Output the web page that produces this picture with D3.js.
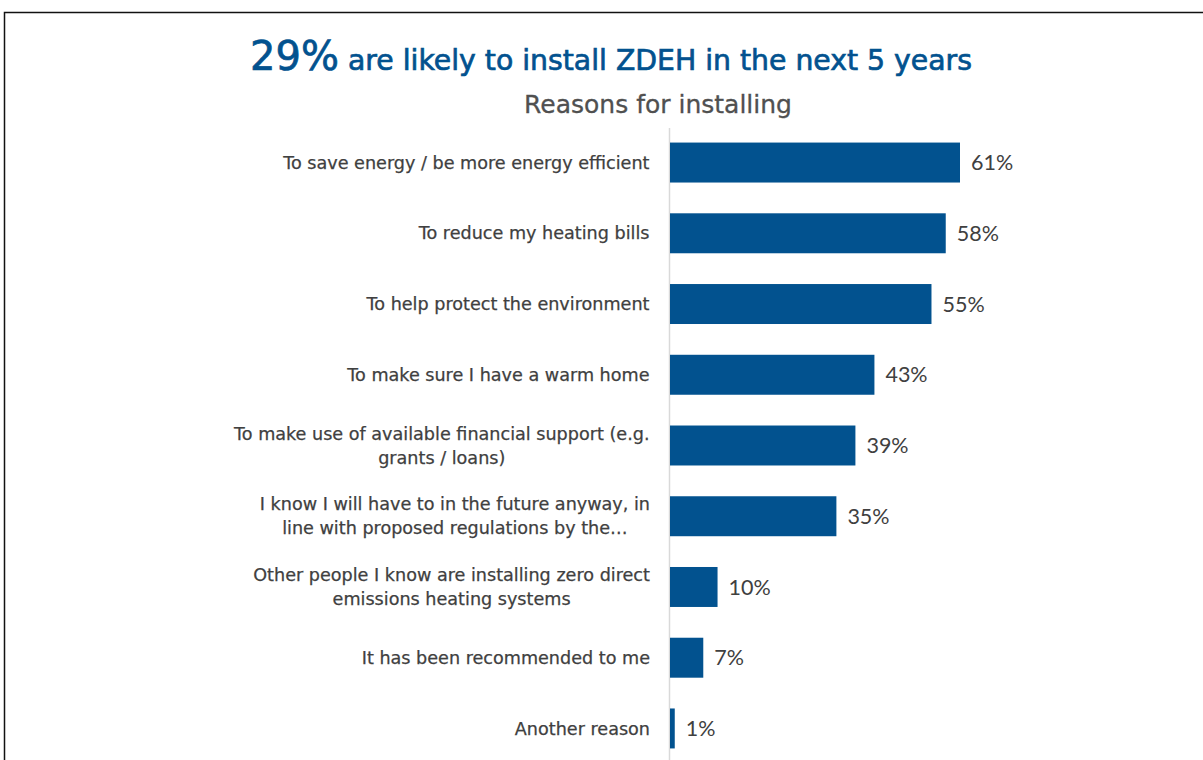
<!DOCTYPE html>
<html>
<head>
<meta charset="utf-8">
<script src="https://cdn.jsdelivr.net/npm/d3@7"></script>
<style>
  html, body { margin: 0; padding: 0; background: #fff; }
  svg { display: block; }
</style>
</head>
<body>
<svg id="chart" width="1203" height="760"></svg>
<script>
// Reasons for installing, share of respondents (%)
const categories = [
  ["To save energy / be more energy efficient"],
  ["To reduce my heating bills"],
  ["To help protect the environment"],
  ["To make sure I have a warm home"],
  ["To make use of available financial support (e.g.", "grants / loans)"],
  ["I know I will have to in the future anyway, in", "line with proposed regulations by the\u2026"],
  ["Other people I know are installing zero direct", "emissions heating systems"],
  ["It has been recommended to me"],
  ["Another reason"]
];
const values = [61, 58, 55, 43, 39, 35, 10, 7, 1];
const valueLabels = ["61%", "58%", "55%", "43%", "39%", "35%", "10%", "7%", "1%"];

const svg = d3.select("#chart");
const blue = "#02528f";
const grey = "#404040";

// frame
svg.append("path")
  .attr("d", "M4.5,760 V12.5 H1203")
  .attr("fill", "none")
  .attr("stroke", "#111")
  .attr("stroke-width", 1.5);

// title (slight stroke gives a medium weight)
const title = svg.append("text")
  .attr("x", 611).attr("y", 70)
  .attr("text-anchor", "middle")
  .attr("fill", blue)
  .attr("stroke", blue)
  .attr("stroke-width", 0.7)
  .style("font-family", "'DejaVu Sans', sans-serif");
title.append("tspan").text("29%").style("font-size", "40px");
title.append("tspan").text(" are likely to install ZDEH in the next 5 years").style("font-size", "28.3px");

svg.append("text")
  .attr("x", 658).attr("y", 113)
  .attr("text-anchor", "middle")
  .attr("fill", "#505050")
  .attr("stroke", "#505050")
  .attr("stroke-width", 0.3)
  .style("font-family", "'DejaVu Sans', sans-serif")
  .style("font-size", "25px")
  .text("Reasons for installing");

const x = d3.scaleLinear().domain([0, 61]).range([670, 960]);
const y = d3.scaleBand().domain(d3.range(values.length)).range([127, 764]).paddingInner(0.435).paddingOuter(0.22);

// axis line
svg.append("line")
  .attr("x1", 669.5).attr("x2", 669.5)
  .attr("y1", 128).attr("y2", 760)
  .attr("stroke", "#d9d9d9").attr("stroke-width", 1.5);

svg.selectAll("rect.bar").data(values).join("rect")
  .attr("class", "bar")
  .attr("x", x(0))
  .attr("y", (d, i) => y(i))
  .attr("width", d => x(d) - x(0))
  .attr("height", y.bandwidth())
  .attr("fill", blue);

svg.selectAll("text.val").data(values).join("text")
  .attr("class", "val")
  .attr("x", d => x(d) + 11)
  .attr("y", (d, i) => y(i) + y.bandwidth() / 2)
  .attr("dy", "0.35em")
  .attr("fill", grey)
  .style("font-family", "'Lato', sans-serif")
  .style("font-size", "21.5px")
  .text((d, i) => valueLabels[i]);

const lab = svg.selectAll("text.cat").data(categories).join("text")
  .attr("class", "cat")
  .attr("text-anchor", "middle")
  .attr("fill", grey)
  .attr("stroke", grey)
  .attr("stroke-width", 0.25)
  .style("font-family", "'DejaVu Sans', sans-serif")
  .style("font-size", "17.6px");
lab.each(function (lines, i) {
  const t = d3.select(this);
  const cy = y(i) + y.bandwidth() / 2;
  const lh = 24;
  lines.forEach((s, k) => {
    t.append("tspan")
      .attr("x", 0)
      .attr("y", cy + (k - (lines.length - 1) / 2) * lh)
      .attr("dy", "0.35em")
      .text(s);
  });
});
// right-align each block of lines at x=650, centring lines within the block
lab.each(function () {
  const t = d3.select(this);
  const w = this.getBBox().width;
  t.selectAll("tspan").attr("x", 650 - w / 2);
});
</script>
</body>
</html>
